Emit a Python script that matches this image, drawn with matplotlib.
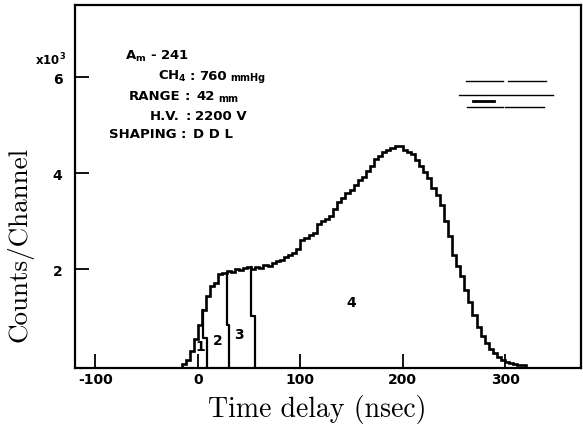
import numpy as np
import matplotlib.pyplot as plt

# --- histogram envelope (counts per 4 nsec channel) ---
bin_start = -16
bin_width = 4
counts = np.array([
    0.03, 0.12, 0.30, 0.55, 0.85, 1.15, 1.45, 1.65, 1.72, 1.90,
    1.93, 1.96, 1.94, 2.00, 1.98, 2.03, 2.05, 2.00, 2.05, 2.03,
    2.09, 2.07, 2.13, 2.17, 2.20, 2.25, 2.30, 2.34, 2.42, 2.62,
    2.65, 2.72, 2.75, 2.95, 3.00, 3.05, 3.12, 3.25, 3.40, 3.48,
    3.58, 3.66, 3.75, 3.86, 3.93, 4.05, 4.15, 4.30, 4.35, 4.44,
    4.48, 4.53, 4.56, 4.56, 4.48, 4.44, 4.40, 4.28, 4.15, 4.02,
    3.90, 3.70, 3.55, 3.35, 3.00, 2.70, 2.30, 2.08, 1.86, 1.58,
    1.32, 1.06, 0.80, 0.62, 0.47, 0.35, 0.26, 0.17, 0.12, 0.08,
    0.05, 0.03, 0.015, 0.005]) * 1000
edges = bin_start + bin_width * np.arange(len(counts) + 1)

# --- cuts between the regions 1|2, 2|3, 3|4 ---
cut_t = [5, 28, 52]
cut_top = np.array([1.15, 1.93, 2.05]) * 1000
cut_tail = np.array([0.58, 0.85, 1.03]) * 1000
cut_end = [8.5, 30.5, 56]

region_labels = ["1", "2", "3", "4"]
region_x = [2.6, 19.8, 40.4, 150]
region_y = np.array([0.40, 0.54, 0.65, 1.33]) * 1000

# little key marks at top right (t, counts)
key_lines = [
    ([262, 298], 5910), ([303, 340], 5910),
    ([255, 347], 5630),
    ([263, 298], 5370), ([300, 338], 5370),
]
key_arrow = ([269, 289], 5510)

xticks = [-100, 0, 100, 200, 300]
yticks = [2000, 4000, 6000]
ytick_labels = ["2", "4", "6"]

y_floor = -50

plt.rcParams['axes.unicode_minus'] = False
plt.rcParams['mathtext.default'] = 'bf'

W, H = 583, 427
fig = plt.figure(figsize=(W / 100, H / 100), dpi=100)
ax = fig.add_axes([75 / W, (H - 369) / H, 506 / W, 363 / H])


def px(x, y):
    return x / W, 1 - y / H


ax.stairs(counts, edges, baseline=y_floor, color='black', lw=1.9)
for t, top, tail, end in zip(cut_t, cut_top, cut_tail, cut_end):
    ax.plot([t, t, end, end], [top, tail, tail, y_floor], color='black', lw=1.6)

for lab, x, y in zip(region_labels, region_x, region_y):
    ax.text(x, y, lab, fontsize=10, fontweight='bold', ha='center', va='center')

for xs, y in key_lines:
    ax.plot(xs, [y, y], color='black', lw=1.0)
ax.plot(key_arrow[0], [key_arrow[1]] * 2, color='black', lw=2.0)

ax.set_xlim(-120, 374)
ax.set_ylim(y_floor, 7500)
ax.set_xticks(xticks)
ax.set_xticklabels([str(v) for v in xticks])
ax.set_yticks(yticks)
ax.set_yticklabels(ytick_labels)
ax.tick_params(axis='both', direction='in', length=10, width=1.3,
               labelsize=10)
ax.tick_params(axis='x', pad=3)
ax.tick_params(axis='y', pad=9)
for lab in ax.get_xticklabels() + ax.get_yticklabels():
    lab.set_fontweight('bold')
for s in ax.spines.values():
    s.set_linewidth(1.6)

ax.set_xlabel("Time delay (nsec)", fontfamily='cmr10', fontsize=20, va='center')
ax.xaxis.set_label_coords((317 - 75) / 506, (369 - 410) / 363)
ax.set_ylabel("Counts/Channel", fontfamily='cmr10', fontsize=19.5, va='center')
ax.yaxis.set_label_coords((20 - 75) / 506, (369 - 244) / 363)

fig.text(*px(35, 60), r"x10$^3$", fontsize=8.5, fontweight='bold', va='center')

# info block
fs = 9.5
fig.text(*px(125, 56), r"A$_m$ - 241", fontsize=fs, fontweight='bold', va='center')
rows = [
    ("CH$_4$", 187, 192, "760", 199, 76),
    ("RANGE", 180, 187, "42", 196, 97),
    ("H.V.", 180, 188, "2200 V", 195, 117),
    ("SHAPING", 177, 183, "D D L", 193, 135),
]
for name, xr, xc, val, xv, y in rows:
    fig.text(*px(xr, y), name, fontsize=fs, fontweight='bold', ha='right', va='center')
    fig.text(*px(xc, y), ":", fontsize=fs, fontweight='bold', ha='center', va='center')
    fig.text(*px(xv, y), val, fontsize=fs, fontweight='bold', ha='left', va='center')
fig.text(*px(230, 78), "mmHg", fontsize=7, fontweight='bold', ha='left', va='center')
fig.text(*px(218, 99), "mm", fontsize=7, fontweight='bold', ha='left', va='center')

fig.savefig("out.png", dpi=100)
